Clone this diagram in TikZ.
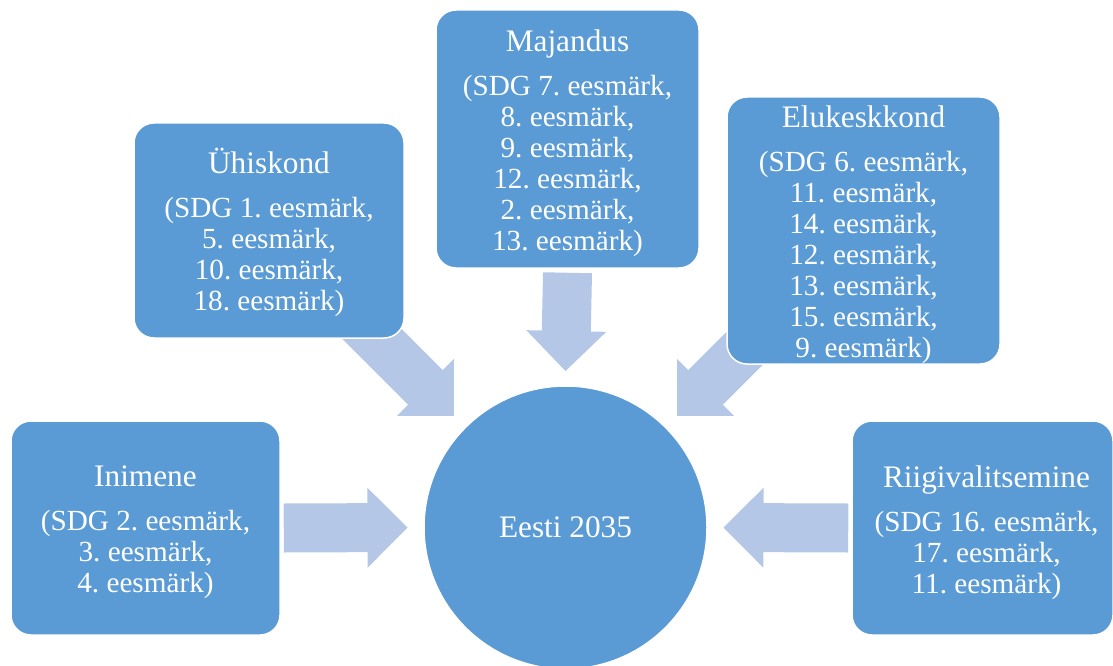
\documentclass[tikz,border=0pt]{standalone}
\usepackage{fontspec}
\setmainfont{Liberation Serif}
\usetikzlibrary{calc,backgrounds}

\definecolor{boxblue}{RGB}{91,155,213}
\definecolor{arrowblue}{RGB}{180,199,231}

\newcommand\bodyfont{\frenchspacing\fontsize{29.2}{31}\selectfont}
\newcommand\titlefont{\fontsize{31.3}{31}\selectfont}
\newcommand\headline[1]{{\titlefont #1}\\[13pt]}

% wide block arrow from tail coordinate #1 to tip coordinate #2
\newcommand\blockarrow[2]{%
  \coordinate (headbase) at ($(#2)!40pt!(#1)$);
  \fill[arrowblue]
    ($(#1)!24.5pt!90:(#2)$) -- ($(headbase)!24.5pt!90:(#2)$)
    -- ($(headbase)!40pt!90:(#2)$) -- (#2)
    -- ($(headbase)!40pt!-90:(#2)$) -- ($(headbase)!24.5pt!-90:(#2)$)
    -- ($(#1)!24.5pt!-90:(#2)$) -- cycle;
}

\tikzset{
  box/.style={fill=boxblue, draw=white, line width=1.5pt, rounded corners=20pt,
    inner sep=0pt},
  boxtext/.style={text=white, align=center, font=\bodyfont, inner sep=0pt},
  hub/.style={circle, fill=boxblue, draw=white, line width=1.5pt, text=white,
    font=\titlefont, minimum size=283pt, inner sep=0pt},
}

\begin{document}
\begin{tikzpicture}[x=1pt, y=-1pt]
\useasboundingbox (0,0) rectangle (1113,666);

% centre
\node[hub] (hub) at (565.5,527.5) {Eesti 2035};

% surrounding fields
\node[box, minimum width=269pt, minimum height=214pt] (inimene) at (145.5,528) {};
\node[box, minimum width=270pt, minimum height=215pt] (uhiskond) at (269,230.5) {};
\node[box, minimum width=263pt, minimum height=258pt] (majandus) at (567.5,139) {};
\node[box, minimum width=273pt, minimum height=267pt] (elukeskkond) at (863.5,230.5) {};
\node[box, minimum width=261pt, minimum height=214pt] (riigi) at (982.5,528) {};

% their texts
\node[boxtext] (inimene-text) at ([yshift=-4.5pt]inimene.center)
  {\headline{Inimene}(SDG 2. eesmärk,\\3. eesmärk,\\4. eesmärk)};
\node[boxtext] (uhiskond-text) at ([yshift=-1.5pt]uhiskond.center)
  {\headline{Ühiskond}(SDG 1. eesmärk,\\5. eesmärk,\\10. eesmärk,\\18. eesmärk)};
\node[boxtext] (majandus-text) at ([yshift=-4.5pt]majandus.center)
  {\headline{Majandus}(SDG 7. eesmärk,\\8. eesmärk,\\9. eesmärk,\\12. eesmärk,\\2. eesmärk,\\13. eesmärk)};
\node[boxtext] (elukeskkond-text) at ([yshift=-4.5pt]elukeskkond.center)
  {\headline{Elukeskkond}(SDG 6. eesmärk,\\11. eesmärk,\\14. eesmärk,\\12. eesmärk,\\13. eesmärk,\\15. eesmärk,\\9. eesmärk)};
\node[boxtext] (riigi-text) at ([xshift=4pt,yshift=-4.5pt]riigi.center)
  {\headline{Riigivalitsemine}(SDG 16. eesmärk,\\17. eesmärk,\\11. eesmärk)};

% arrows converging on the centre
\begin{scope}[on background layer]
  \coordinate (a1s) at ([xshift=3pt]inimene.east);
  \coordinate (a1e) at ($(hub.center)!158pt!(hub.west)$);
  \blockarrow{a1s}{a1e}
  \coordinate (a2s) at ([xshift=-3pt]riigi.west);
  \coordinate (a2e) at ($(hub.center)!158pt!(hub.east)$);
  \blockarrow{a2s}{a2e}
  \coordinate (a3s) at ([yshift=-4pt]majandus.south);
  \coordinate (a3e) at ($(hub.center)!156.5pt!(hub.north)$);
  \blockarrow{a3s}{a3e}
  \coordinate (a4s) at ($(hub.center)!308pt!(hub.north west)$);
  \coordinate (a4e) at ($(hub.center)!158pt!(hub.north west)$);
  \blockarrow{a4s}{a4e}
  \coordinate (a5s) at ($(hub.center)!308pt!(hub.north east)$);
  \coordinate (a5e) at ($(hub.center)!158pt!(hub.north east)$);
  \blockarrow{a5s}{a5e}
\end{scope}
\end{tikzpicture}
\end{document}
